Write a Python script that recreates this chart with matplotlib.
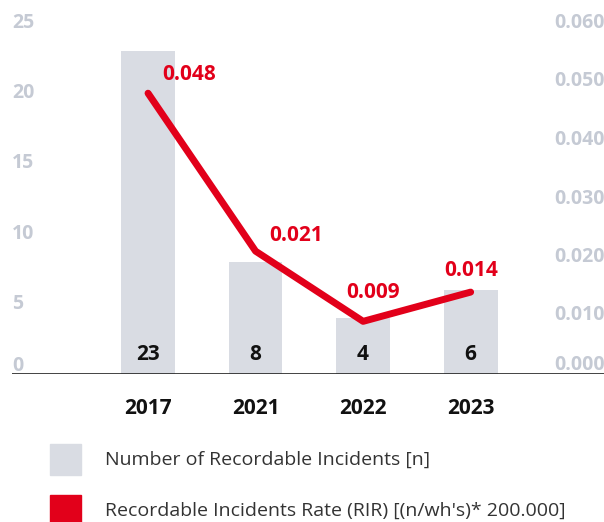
import matplotlib
matplotlib.use("Agg")
import matplotlib.pyplot as plt
from matplotlib.patches import Rectangle
from matplotlib.transforms import blended_transform_factory

years = ["2017", "2021", "2022", "2023"]
incidents = [23, 8, 4, 6]
rir = [0.048, 0.021, 0.009, 0.014]
rir_labels = ["0.048", "0.021", "0.009", "0.014"]
left_ticks = [0, 5, 10, 15, 20, 25]
right_ticks = [0.0, 0.01, 0.02, 0.03, 0.04, 0.05, 0.06]
right_tick_labels = ["0.000", "0.010", "0.020", "0.030", "0.040", "0.050", "0.060"]
legend_labels = ["Number of Recordable Incidents [n]",
                 "Recordable Incidents Rate (RIR) [(n/wh's)* 200.000]"]

BAR = "#d9dce3"
RED = "#e2001a"
TICK = "#c5cad4"
FONT = "Open Sans"

W, H = 604, 522
fig = plt.figure(figsize=(W / 100, H / 100), dpi=100)
ax = fig.add_axes([12 / W, (H - 374) / H, (W - 12) / W, (374 - 23) / H])
ax2 = ax.twinx()

x = list(range(len(years)))
ax.bar(x, incidents, width=0.5, color=BAR, zorder=1)
ax.set_xlim(-1.265, 4.24)
ax.set_ylim(0, 25)
ax2.set_ylim(0, 0.06)

ax2.plot(x, rir, color=RED, lw=5.0, solid_capstyle="round",
         solid_joinstyle="round", zorder=3)

for a in (ax, ax2):
    for s in a.spines.values():
        s.set_visible(False)
    a.set_xticks([])
    a.set_yticks([])

# baseline
ax.axhline(0, color="#222222", lw=1.2, zorder=2)

# left axis labels
tl = blended_transform_factory(ax.transAxes, ax.transData)
for v in left_ticks:
    dy = 8 if v == 0 else 0
    ax.annotate(str(v), (0, v), xycoords=tl, xytext=(0, dy), textcoords="offset pixels",
                ha="left", va="center", fontsize=14, color=TICK,
                fontfamily=FONT, fontweight="bold")

# right axis labels
tr = blended_transform_factory(ax2.transAxes, ax2.transData)
for v, s in zip(right_ticks, right_tick_labels):
    dy = 9 if v == 0 else 0
    ax2.annotate(s, (1, v), xycoords=tr, xytext=(1, dy), textcoords="offset pixels",
                 ha="right", va="center", fontsize=14, color=TICK,
                 fontfamily=FONT, fontweight="bold")

# counts inside bars
for xi, n in zip(x, incidents):
    ax.annotate(str(n), (xi, 0), xytext=(0, 20), textcoords="offset pixels",
                ha="center", va="center", fontsize=15, color="#111111",
                fontfamily=FONT, fontweight="bold")

# year labels
for xi, y in zip(x, years):
    ax.annotate(y, (xi, 0), xytext=(0, -34), textcoords="offset pixels",
                ha="center", va="center", fontsize=15, color="#111111",
                fontfamily=FONT, fontweight="bold")

# rate labels
offsets = [(14, 19, "left"), (14, 16, "left"), (10, 29, "center"), (1, 22, "center")]
for xi, v, s, (dx, dy, ha) in zip(x, rir, rir_labels, offsets):
    ax2.annotate(s, (xi, v), xytext=(dx, dy), textcoords="offset pixels",
                 ha=ha, va="center", fontsize=15, color=RED,
                 fontfamily=FONT, fontweight="bold")

# legend
for i, (lab, col) in enumerate(zip(legend_labels, [BAR, RED])):
    top = 444 + i * 51
    fig.patches.append(Rectangle((50 / W, 1 - (top + 31) / H), 31 / W, 31 / H,
                                 transform=fig.transFigure, color=col))
    fig.text(105 / W, 1 - (top + 16) / H, lab, ha="left", va="center",
             fontsize=14, color="#333333", fontfamily=FONT)

fig.savefig("out.png", dpi=100)
